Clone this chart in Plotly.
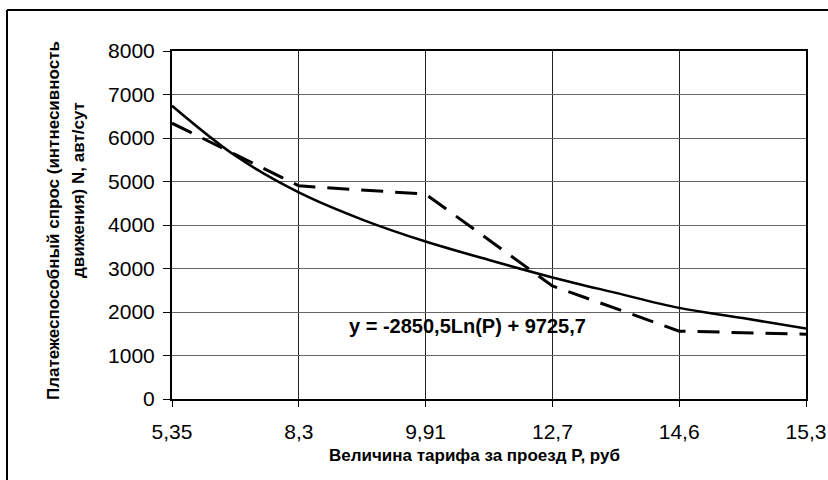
import plotly.graph_objects as go

# ---- data ----
tariff_labels = ["5,35", "8,3", "9,91", "12,7", "14,6", "15,3"]
tariff_pos = [0, 1, 2, 3, 4, 5]
demand_actual = [6340, 4900, 4710, 2600, 1560, 1490]

trend_pos = [0, 0.5, 1, 1.5, 2, 2.5, 3, 3.5, 4, 4.5, 5]
trend_values = [6740, 5590, 4750, 4125, 3620, 3195, 2795, 2440, 2095, 1860, 1620]

y_ticks = [0, 1000, 2000, 3000, 4000, 5000, 6000, 7000, 8000]

equation_text = "y = -2850,5Ln(P) + 9725,7"
x_title = "Величина тарифа за проезд P, руб"
y_title_1 = "Платежеспособный спрос (интнесивность"
y_title_2 = "движения) N, авт/сут"

W, H = 828, 480
ML, MR, MT, MB = 172, 22, 51, 81
PW, PH = W - ML - MR, H - MT - MB


def px(xp):
    return (xp - ML) / PW


def py(yp):
    return (H - MB - yp) / PH


fig = go.Figure()
fig.add_trace(go.Scatter(
    x=trend_pos, y=trend_values, mode="lines", line_shape="spline",
    line=dict(color="black", width=2.5), showlegend=False, hoverinfo="skip"))
fig.add_trace(go.Scatter(
    x=tariff_pos, y=demand_actual, mode="lines",
    line=dict(color="black", width=3, dash="22px,12px"), showlegend=False))

font_tick = dict(family="Arial, Liberation Sans", size=21, color="black")
fig.update_xaxes(
    range=[0, 5], tickmode="array", tickvals=tariff_pos, ticktext=tariff_labels,
    showgrid=True, gridcolor="#222222", gridwidth=1, zeroline=False,
    showline=True, linecolor="black", linewidth=2, mirror=True,
    ticks="outside", ticklen=6, tickcolor="black", tickwidth=1,
    tickfont=font_tick, ticklabelstandoff=7)
fig.update_yaxes(
    range=[0, 8000], tickmode="array", tickvals=y_ticks,
    ticktext=[str(v) for v in y_ticks],
    showgrid=True, gridcolor="#666666", gridwidth=1, zeroline=False,
    showline=True, linecolor="black", linewidth=2, mirror=True,
    ticks="outside", ticklen=7, tickcolor="black", tickwidth=1,
    tickfont=font_tick, ticklabelstandoff=4)

bold = dict(family="Arial, Liberation Sans", color="black")
fig.add_annotation(xref="paper", yref="paper", x=px(467), y=py(326),
                   text="<b>" + equation_text + "</b>", showarrow=False,
                   font=dict(size=20, **bold), xanchor="center", yanchor="middle")
fig.add_annotation(xref="paper", yref="paper", x=px(474), y=py(455),
                   text="<b>" + x_title + "</b>", showarrow=False,
                   font=dict(size=17, **bold), xanchor="center", yanchor="middle")
fig.add_annotation(xref="paper", yref="paper", x=px(53), y=py(221),
                   text="<b>" + y_title_1 + "</b>", showarrow=False, textangle=-90,
                   font=dict(size=17, **bold), xanchor="center", yanchor="middle")
fig.add_annotation(xref="paper", yref="paper", x=px(78), y=py(190),
                   text="<b>" + y_title_2 + "</b>", showarrow=False, textangle=-90,
                   font=dict(size=17, **bold), xanchor="center", yanchor="middle")

# outer chart frame (cropped at right and bottom in the reference)
fig.add_shape(type="line", xref="paper", yref="paper",
              x0=px(7), x1=px(840), y0=py(10), y1=py(10),
              line=dict(color="black", width=2))
fig.add_shape(type="line", xref="paper", yref="paper",
              x0=px(7), x1=px(7), y0=py(10), y1=py(490),
              line=dict(color="black", width=2))

fig.update_layout(width=W, height=H,
                  margin=dict(l=ML, r=MR, t=MT, b=MB, autoexpand=False),
                  paper_bgcolor="white", plot_bgcolor="white")
fig.write_html("out.html",
               config={"displayModeBar": False, "responsive": False},
               post_script="document.body.style.margin='0px';"
                           "document.body.style.overflow='hidden';")
